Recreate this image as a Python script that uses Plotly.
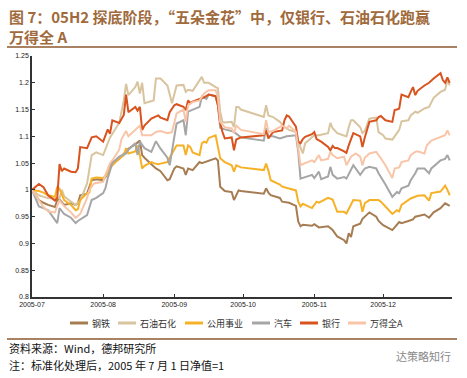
import plotly.graph_objects as go

# ---- data (dates in 2005, values = normalised NAV) ----
steel_d = ["07-01","07-04","07-06","07-08","07-11","07-12","07-13","07-15","07-18","07-20","07-21","07-22","07-25","07-27","07-29",
           "08-01","08-03","08-04","08-05","08-08","08-10","08-12","08-15","08-17","08-18","08-19","08-22","08-24","08-26","08-29","08-30",
           "09-01","09-02","09-05","09-06","09-07","09-09","09-12","09-13","09-16","09-19","09-20","09-21","09-23","09-26","09-27","09-29","09-30",
           "10-10","10-11","10-12","10-13","10-17","10-18","10-21","10-24","10-25","10-26","10-27","10-31",
           "11-01","11-03","11-07","11-09","11-11","11-14","11-15","11-16","11-17","11-18","11-21","11-22","11-25","11-28","11-29",
           "12-01","12-05","12-08","12-09","12-12","12-14","12-15","12-19","12-21","12-23","12-26","12-28","12-30"]
steel_v = [1.000,0.981,0.976,0.972,0.968,0.981,0.982,0.972,0.975,0.972,0.975,0.990,0.993,1.018,1.020,
           1.018,1.031,1.043,1.052,1.058,1.068,1.077,1.085,1.092,1.065,1.060,1.048,1.040,1.035,1.018,1.020,
           1.040,1.044,1.040,1.028,1.040,1.037,1.052,1.050,1.055,1.059,1.055,1.006,0.998,0.996,0.981,0.999,0.998,
           0.993,1.003,0.995,0.990,0.985,0.978,0.976,0.970,0.941,0.932,0.935,0.933,
           0.936,0.930,0.932,0.925,0.913,0.906,0.900,0.919,0.912,0.932,0.937,0.946,0.958,0.950,0.942,
           0.934,0.925,0.940,0.938,0.942,0.945,0.950,0.954,0.948,0.958,0.966,0.975,0.970]

petro_d = ["07-01","07-04","07-06","07-08","07-11","07-13","07-14","07-15","07-18","07-20","07-22","07-25","07-27","07-29",
           "08-01","08-02","08-04","08-08","08-09","08-10","08-11","08-12","08-15","08-16","08-17","08-18","08-19","08-22","08-23","08-24","08-26","08-29","08-30","08-31",
           "09-02","09-05","09-06","09-07","09-09","09-12","09-13","09-14","09-16","09-19","09-20","09-21","09-22","09-23","09-26","09-27","09-28","09-29","09-30",
           "10-10","10-11","10-12","10-14","10-17","10-19","10-21","10-24","10-25","10-27","10-28",
           "11-01","11-03","11-07","11-08","11-09","11-11","11-15","11-16","11-17","11-18","11-21","11-22","11-23","11-25","11-28","11-29",
           "12-01","12-02","12-05","12-07","12-08","12-09","12-12","12-13","12-15","12-16","12-19","12-21","12-22","12-23","12-26","12-28","12-29","12-30"]
petro_v = [1.000,0.990,0.987,0.985,0.984,0.985,1.000,0.988,0.978,0.972,0.980,1.012,1.065,1.070,
           1.065,1.075,1.098,1.125,1.145,1.167,1.198,1.177,1.192,1.202,1.180,1.200,1.162,1.165,1.167,1.208,1.208,1.195,1.180,1.162,
           1.195,1.196,1.183,1.187,1.185,1.205,1.211,1.200,1.200,1.192,1.190,1.146,1.127,1.126,1.127,1.117,1.155,1.155,1.150,
           1.136,1.158,1.139,1.136,1.127,1.117,1.112,1.108,1.090,1.068,1.087,
           1.102,1.102,1.106,1.125,1.115,1.106,1.100,1.117,1.130,1.130,1.117,1.106,1.110,1.133,1.135,1.108,
           1.102,1.096,1.094,1.106,1.112,1.128,1.130,1.139,1.146,1.144,1.152,1.155,1.164,1.172,1.183,1.187,1.205,1.195]

util_d = ["07-01","07-04","07-06","07-08","07-11","07-12","07-13","07-15","07-18","07-20","07-21","07-22","07-25","07-26","07-27","07-29",
          "08-01","08-03","08-04","08-05","08-08","08-10","08-11","08-12","08-15","08-16","08-17","08-18","08-19","08-22","08-23","08-25","08-26","08-29","08-31",
          "09-02","09-05","09-06","09-07","09-08","09-09","09-12","09-13","09-14","09-15","09-16","09-19","09-20","09-21","09-23","09-26","09-27","09-28","09-30",
          "10-10","10-11","10-12","10-13","10-17","10-18","10-21","10-24","10-25","10-26","10-27","10-28","10-31",
          "11-02","11-03","11-07","11-09","11-11","11-14","11-15","11-17","11-18","11-21","11-22","11-23","11-25","11-29","11-30",
          "12-02","12-05","12-07","12-08","12-09","12-12","12-13","12-16","12-19","12-21","12-22","12-26","12-28","12-29","12-30"]
util_v = [1.000,0.998,0.995,0.990,0.987,1.006,1.002,0.981,0.972,0.962,0.964,0.981,0.994,0.995,1.021,1.023,
          1.022,1.031,1.040,1.046,1.058,1.065,1.078,1.068,1.072,1.083,1.065,1.040,1.045,1.052,1.050,1.048,1.049,1.052,1.068,
          1.083,1.083,1.065,1.083,1.080,1.070,1.065,1.087,1.090,1.088,1.097,1.102,1.083,1.059,1.052,1.046,1.034,1.046,1.042,
          1.037,1.049,1.036,1.018,1.010,1.006,1.002,0.999,0.978,0.969,0.974,0.972,0.966,
          0.978,0.976,0.985,0.982,0.959,0.959,0.956,0.972,0.981,0.980,0.959,0.975,0.981,0.981,0.978,
          0.969,0.955,0.962,0.960,0.972,0.980,0.984,0.989,0.990,0.980,0.994,0.997,1.008,1.000,0.990]

auto_d = ["07-01","07-04","07-06","07-08","07-11","07-12","07-13","07-15","07-18","07-20","07-21","07-22","07-25","07-27","07-29",
          "08-01","08-02","08-03","08-04","08-05","08-08","08-11","08-12","08-15","08-16","08-17","08-19","08-22","08-24","08-26","08-29","08-30",
          "09-01","09-02","09-05","09-06","09-07","09-09","09-12","09-13","09-15","09-16","09-19","09-20","09-21","09-23","09-26","09-28","09-30",
          "10-10","10-11","10-12","10-14","10-17","10-20","10-24","10-25","10-26","10-28","10-31",
          "11-01","11-03","11-04","11-07","11-08","11-09","11-11","11-14","11-15","11-17","11-18","11-21","11-23","11-25","11-28","11-29",
          "12-01","12-02","12-05","12-07","12-08","12-09","12-12","12-13","12-15","12-16","12-19","12-21","12-22","12-26","12-28","12-29","12-30"]
auto_v = [1.000,0.969,0.966,0.962,0.944,0.938,0.966,0.955,0.948,0.938,0.942,0.945,0.953,0.981,0.985,
          0.994,1.003,1.022,1.037,1.050,1.062,1.068,1.075,1.087,1.065,1.090,1.078,1.071,1.091,1.077,1.060,1.046,
          1.099,1.124,1.130,1.102,1.146,1.150,1.155,1.174,1.170,1.178,1.175,1.158,1.116,1.113,1.110,1.105,1.098,
          1.092,1.115,1.100,1.100,1.096,1.100,1.102,1.071,1.021,1.024,1.028,
          1.022,1.034,1.020,1.025,1.043,1.028,1.021,1.024,1.021,1.037,1.046,1.028,1.040,1.043,1.040,1.031,
          1.018,1.010,0.987,0.996,0.994,1.003,1.008,1.018,1.031,1.040,1.040,1.031,1.040,1.055,1.058,1.065,1.055]

bank_d = ["07-01","07-04","07-06","07-08","07-11","07-12","07-13","07-14","07-15","07-18","07-20","07-21","07-22","07-25","07-27","07-29",
          "08-01","08-03","08-04","08-05","08-08","08-09","08-10","08-11","08-12","08-15","08-16","08-17","08-18","08-19","08-22","08-25","08-26","08-29","08-30",
          "09-01","09-02","09-05","09-06","09-07","09-08","09-09","09-12","09-14","09-16","09-19","09-20","09-21","09-22","09-23","09-26","09-27","09-28","09-29","09-30",
          "10-10","10-11","10-12","10-14","10-18","10-19","10-20","10-21","10-24","10-25","10-26","10-27","10-28","10-31",
          "11-01","11-02","11-04","11-07","11-08","11-09","11-10","11-11","11-14","11-15","11-16","11-18","11-21","11-22","11-23","11-25","11-28","11-29","11-30",
          "12-02","12-05","12-06","12-07","12-08","12-09","12-12","12-13","12-14","12-15","12-16","12-19","12-21","12-23","12-26","12-27","12-28","12-29","12-30"]
bank_v = [1.000,1.011,1.005,0.990,0.980,0.985,1.048,1.035,1.040,1.034,1.033,1.040,1.080,1.078,1.098,1.100,
          1.090,1.113,1.105,1.130,1.125,1.132,1.140,1.178,1.145,1.155,1.148,1.155,1.112,1.120,1.133,1.139,1.135,1.130,1.145,
          1.158,1.160,1.155,1.149,1.167,1.162,1.165,1.170,1.173,1.178,1.175,1.158,1.125,1.108,1.096,1.098,1.074,1.094,1.096,1.098,
          1.102,1.111,1.096,1.108,1.111,1.130,1.139,1.137,1.118,1.090,1.087,1.095,1.099,1.104,
          1.108,1.095,1.090,1.080,1.074,1.082,1.078,1.078,1.072,1.069,1.083,1.106,1.100,1.080,1.098,1.127,1.130,1.136,1.138,
          1.130,1.127,1.149,1.150,1.152,1.178,1.173,1.183,1.192,1.177,1.185,1.195,1.200,1.208,1.218,1.205,1.200,1.210,1.200]

allA_d = ["07-01","07-04","07-06","07-08","07-11","07-12","07-13","07-15","07-18","07-20","07-22","07-25","07-26","07-28",
          "08-01","08-02","08-04","08-05","08-08","08-09","08-11","08-12","08-15","08-17","08-18","08-22","08-24","08-26","08-29","08-31",
          "09-02","09-05","09-06","09-07","09-09","09-12","09-14","09-16","09-19","09-20","09-21","09-23","09-26","09-27","09-28","09-30",
          "10-10","10-11","10-12","10-14","10-18","10-20","10-21","10-24","10-25","10-26","10-28","10-31",
          "11-01","11-03","11-04","11-07","11-08","11-09","11-11","11-14","11-15","11-17","11-19","11-21","11-22","11-23","11-25","11-28","11-30",
          "12-02","12-05","12-06","12-08","12-09","12-12","12-13","12-15","12-16","12-19","12-20","12-22","12-26","12-27","12-28","12-29","12-30"]
allA_v = [1.000,0.980,0.968,0.960,0.958,0.970,0.980,0.970,0.958,0.948,0.955,0.985,1.000,1.012,
          1.015,1.028,1.050,1.055,1.075,1.095,1.110,1.100,1.111,1.120,1.102,1.102,1.108,1.110,1.106,1.108,
          1.143,1.150,1.127,1.158,1.164,1.167,1.180,1.186,1.186,1.173,1.127,1.117,1.115,1.106,1.120,1.112,
          1.104,1.130,1.108,1.110,1.120,1.115,1.120,1.108,1.078,1.046,1.050,1.055,
          1.052,1.065,1.055,1.058,1.071,1.065,1.059,1.062,1.046,1.062,1.068,1.062,1.046,1.060,1.068,1.071,1.059,
          1.046,1.022,1.040,1.042,1.052,1.055,1.065,1.071,1.072,1.068,1.083,1.092,1.099,1.100,1.102,1.111,1.102]

series = [
    ("钢铁", steel_d, steel_v, "#A67C52"),
    ("石油石化", petro_d, petro_v, "#D8C49E"),
    ("公用事业", util_d, util_v, "#F6B126"),
    ("汽车", auto_d, auto_v, "#A6A6A6"),
    ("银行", bank_d, bank_v, "#D9531E"),
    ("万得全A", allA_d, allA_v, "#F9C5A8"),
]

y_ticks = [0.8, 0.85, 0.9, 0.95, 1, 1.05, 1.1, 1.15, 1.2, 1.25]
y_tick_text = ["0.8", "0.85", "0.9", "0.95", "1", "1.05", "1.1", "1.15", "1.2", "1.25"]
x_ticks = ["2005-07-01", "2005-08-01", "2005-09-01", "2005-10-01", "2005-11-01", "2005-12-01"]
x_tick_text = ["2005-07", "2005-08", "2005-09", "2005-10", "2005-11", "2005-12"]

CJK = "Noto Sans CJK SC"
LAT = "Liberation Sans, Arial"

fig = go.Figure()
for name, d, v, c in series:
    fig.add_trace(go.Scatter(x=["2005-" + s for s in d], y=v, mode="lines", name=name,
                             line=dict(color=c, width=2)))

W, H = 467, 378
L, R, T, B = 32, 15, 56, 81
pw, ph = W - L - R, H - T - B

def px(xp):
    return (xp - L) / pw

def py(yp):
    return (H - B - yp) / ph

fig.update_layout(
    width=W, height=H,
    margin=dict(l=L, r=R, t=T, b=B, autoexpand=False),
    paper_bgcolor="white", plot_bgcolor="white",
    showlegend=False,
    xaxis=dict(type="date", range=["2005-07-01", "2005-12-31"], automargin=False,
               tickvals=x_ticks, ticktext=x_tick_text,
               tickfont=dict(family=LAT, size=7, color="#222222"),
               showgrid=False, zeroline=False,
               showline=True, linecolor="#333333", linewidth=1.5,
               ticks="inside", ticklen=3, tickcolor="#333333"),
    yaxis=dict(range=[0.8, 1.25], tickvals=y_ticks, ticktext=y_tick_text, automargin=False,
               tickfont=dict(family=LAT, size=7, color="#222222"),
               showgrid=False, zeroline=False,
               showline=True, linecolor="#333333", linewidth=1.5,
               ticks="inside", ticklen=3, tickcolor="#333333"),
)

# legend row (line sample + label) under the plot
legend_x = [70, 118, 185, 252, 300, 348]
for (name, _d, _v, c), lx in zip(series, legend_x):
    fig.add_shape(type="line", xref="paper", yref="paper", x0=px(lx), x1=px(lx + 18),
                  y0=py(323), y1=py(323), line=dict(color=c, width=3))
    fig.add_annotation(xref="paper", yref="paper", x=px(lx + 20), y=py(323), xanchor="left",
                       yanchor="middle", text=name, showarrow=False,
                       font=dict(family=CJK, size=9, color="#333333"))

fig.add_annotation(xref="paper", yref="paper", x=px(7), y=py(4), xanchor="left", yanchor="top",
                   text="<b>图 7：05H2 探底阶段，“五朵金花”中，仅银行、石油石化跑赢<br>万得全 A</b>",
                   showarrow=False, align="left",
                   font=dict(family=CJK, size=15, color="#A06A3C"))

for yy in (47, 339):
    fig.add_shape(type="line", xref="paper", yref="paper", x0=px(7), x1=px(457), y0=py(yy), y1=py(yy),
                  line=dict(color="#A98264", width=2))

fig.add_annotation(xref="paper", yref="paper", x=px(7), y=py(348), xanchor="left", yanchor="middle",
                   text="资料来源：Wind，德邦研究所", showarrow=False,
                   font=dict(family=CJK, size=11, color="#111111"))
fig.add_annotation(xref="paper", yref="paper", x=px(7), y=py(365), xanchor="left", yanchor="middle",
                   text="注：标准化处理后，2005 年 7 月 1 日净值=1", showarrow=False,
                   font=dict(family=CJK, size=11, color="#111111"))
fig.add_annotation(xref="paper", yref="paper", x=px(453), y=py(356), xanchor="right", yanchor="middle",
                   text="达策略知行", showarrow=False,
                   font=dict(family=CJK, size=11, color="#8a8a8a"))

fig.write_html("out.html", config={"displayModeBar": False},
               post_script="document.body.style.margin='0';document.body.style.padding='0';")
